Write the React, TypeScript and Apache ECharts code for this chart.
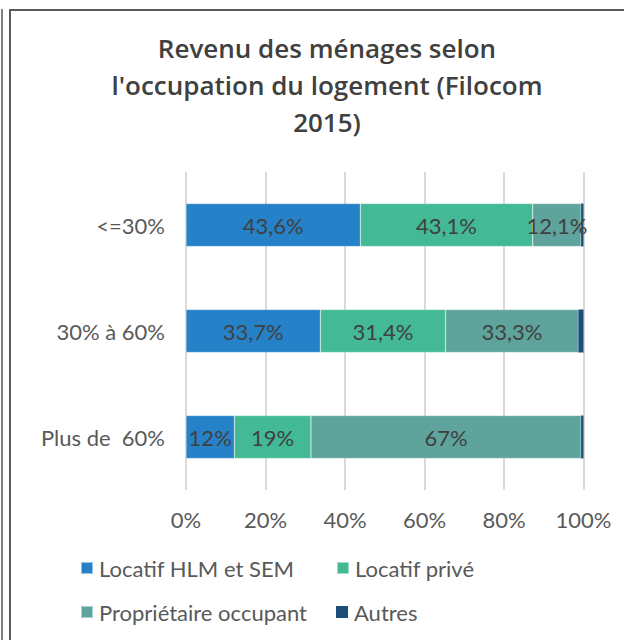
import React, { useEffect, useRef } from "react";
import * as echarts from "echarts";

const categories = ["<=30%", "30% à 60%", "Plus de  60%"];
const seriesNames = ["Locatif HLM et SEM", "Locatif privé", "Propriétaire occupant", "Autres"];
const hlm = [43.6, 33.7, 12];
const prive = [43.1, 31.4, 19];
const proprio = [12.1, 33.3, 67];
const autres = [0.6, 1.3, 0.6];
const xTicks = [0, 20, 40, 60, 80, 100];
const colors = ["#2682C8", "#43B995", "#5FA39D", "#1B4F7A"];

const rawSeries = [hlm, prive, proprio, autres];
const totals = categories.map((_, i) => rawSeries.reduce((s, arr) => s + arr[i], 0));

const fmt = (v: number) => String(v).replace(".", ",") + "%";

export default function App() {
  const ref = useRef<HTMLDivElement>(null);
  useEffect(() => {
    if (!ref.current) return;
    const chart = echarts.init(ref.current, undefined, { renderer: "svg" });
    const labelFont = "Lato";
    const series = rawSeries.map((arr, si) => ({
      name: seriesNames[si],
      type: "bar",
      stack: "total",
      barWidth: 43,
      itemStyle:
        si < 3
          ? { color: colors[si], borderColor: "rgba(255,255,255,0.5)", borderWidth: 0.5 }
          : { color: colors[si] },
      label: {
        show: si < 3,
        position: "inside",
        fontFamily: labelFont,
        fontSize: 22,
        color: "#404040",
        formatter: (p: any) => fmt(arr[p.dataIndex]),
      },
      data: arr.map((v, i) => (v / totals[i]) * 100),
    }));
    const legendPos = [
      { left: 80, top: 556 },
      { left: 336, top: 556 },
      { left: 80, top: 600 },
      { left: 336, top: 600 },
    ];
    chart.setOption({
      animation: false,
      color: colors,
      title: {
        text: "Revenu des ménages selon\nl'occupation du logement (Filocom\n2015)",
        left: 327,
        textAlign: "center",
        top: 29,
        padding: 0,
        textStyle: {
          fontFamily: "Open Sans",
          fontWeight: 600,
          fontSize: 26,
          lineHeight: 37,
          color: "#404040",
        },
      },
      grid: { left: 186, right: 40.5, top: 172, height: 318 },
      xAxis: {
        type: "value",
        min: xTicks[0],
        max: xTicks[xTicks.length - 1],
        interval: 20,
        axisLabel: { formatter: "{value}%", fontFamily: labelFont, fontSize: 22, color: "#595959", margin: 18 },
        splitLine: { lineStyle: { color: "#d9d9d9", width: 2 } },
        axisLine: { show: false },
        axisTick: { show: false },
      },
      yAxis: {
        type: "category",
        data: categories,
        inverse: true,
        axisLine: { show: false },
        axisTick: { show: false },
        axisLabel: { fontFamily: labelFont, fontSize: 22, color: "#595959", margin: 21 },
      },
      legend: seriesNames.map((n, i) => ({
        data: [n],
        left: legendPos[i].left,
        top: legendPos[i].top,
        padding: 0,
        icon: "rect",
        itemWidth: 12,
        itemHeight: 12,
        itemGap: 0,
        selectedMode: false,
        textStyle: { fontFamily: labelFont, fontSize: 22, color: "#595959", lineHeight: 24, padding: [0, 0, 0, 1] },
      })),
      graphic: [
        { type: "rect", shape: { x: 1, y: 9, width: 2, height: 640 }, style: { fill: "#7f7f7f" } },
        { type: "rect", shape: { x: 9, y: 9, width: 2, height: 640 }, style: { fill: "#595959" } },
        { type: "rect", shape: { x: 9, y: 9, width: 620, height: 2 }, style: { fill: "#595959" } },
      ],
      series,
    });
    return () => chart.dispose();
  }, []);
  return (
    <div
      ref={ref}
      style={{ position: "fixed", left: 0, top: 0, width: 624, height: 640, background: "#fff" }}
    />
  );
}
